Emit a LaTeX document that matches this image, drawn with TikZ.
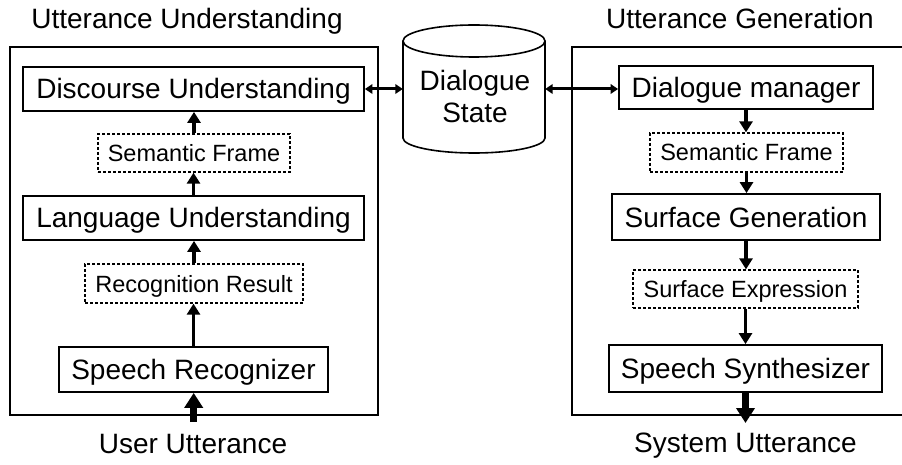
\documentclass[tikz,border=0pt]{standalone}
\usepackage{fontspec}
\setmainfont{Liberation Sans}
\usetikzlibrary{arrows.meta}
\tikzset{
  mainbox/.style={draw, line width=1.8pt, rectangle, inner sep=0pt,
    font=\fontsize{28}{32}\selectfont, text height=20pt, text depth=0pt},
  databox/.style={draw, line width=1.3pt, dash pattern=on 3pt off 2pt, rectangle, inner sep=0pt,
    font=\fontsize{23.5}{27}\selectfont, text height=17pt, text depth=0pt},
  bigbox/.style={draw, line width=2.4pt, rectangle, inner sep=0pt},
  title/.style={anchor=base, inner sep=0pt, font=\fontsize{28}{32}\selectfont},
  flow/.style={line width=3.9pt, -{Triangle[length=11pt,width=13pt]}},
  both/.style={line width=3pt, {Triangle[length=7.5pt,width=9.5pt]}-{Triangle[length=7.5pt,width=9.5pt]}},
  io/.style={line width=7pt, -{Triangle[length=15pt,width=18pt]}},
}
\begin{document}
\begin{tikzpicture}[x=1pt,y=-1pt]
\useasboundingbox (0,0) rectangle (902,465);
% big frames
\node[bigbox, minimum width=368pt, minimum height=368pt] (uu) at (194,231) {};
\node[bigbox, minimum width=340pt, minimum height=368pt] (ug) at (742,231) {};
% titles
\node[title] (tuu) at (187,29) {Utterance Understanding};
\node[title] (tug) at (740,29) {Utterance Generation};
% left column
\node[mainbox, minimum width=341pt, minimum height=44pt] (du) at (193.5,89) {Discourse Understanding};
\node[databox, minimum width=192pt, minimum height=38pt] (sfl) at (194,153) {Semantic Frame};
\node[mainbox, minimum width=341pt, minimum height=44pt] (lu) at (193.5,218) {Language Understanding};
\node[databox, minimum width=218pt, minimum height=39pt] (rr) at (194,283.5) {Recognition Result};
\node[mainbox, minimum width=269pt, minimum height=45pt] (sr) at (193.5,369.5) {Speech Recognizer};
% right column
\node[mainbox, minimum width=254pt, minimum height=43pt] (dm) at (746,87.5) {Dialogue manager};
\node[databox, minimum width=193pt, minimum height=39pt] (sfr) at (746.5,152.5) {Semantic Frame};
\node[mainbox, minimum width=268pt, minimum height=46pt] (sg) at (746,217) {Surface Generation};
\node[databox, minimum width=225pt, minimum height=38pt] (se) at (745.5,289) {Surface Expression};
\node[mainbox, minimum width=273pt, minimum height=47pt] (ss) at (745.5,368.5) {Speech Synthesizer};
% dialogue state cylinder
\node[inner sep=0pt, minimum width=142pt, minimum height=128pt] (ds) at (474,89) {};
\draw[line width=1.6pt, fill=white] (403,41) -- (403,138) arc[start angle=180, end angle=360, x radius=71pt, y radius=15pt] -- (545,41);
\draw[line width=1.6pt] (474,41) ellipse[x radius=71pt, y radius=16pt];
\node[align=center, inner sep=0pt, font=\fontsize{28}{32}\selectfont] (dsl) at (475,96) {Dialogue\\State};
% outer labels
\node[title] (uut) at (193,453) {User Utterance};
\node[title] (sut) at (745.5,452) {System Utterance};
\coordinate (uin) at (193.7,422);
\coordinate (sout) at (745.5,423);
% left flow
\draw[io] (uin) -- (uin |- sr.south);
\draw[flow] (sr.north) -- (sr.north |- rr.south);
\draw[flow] (rr.north) -- (rr.north |- lu.south);
\draw[flow] (lu.north) -- (lu.north |- sfl.south);
\draw[flow] (sfl.north) -- (sfl.north |- du.south);
% right flow
\draw[flow] (dm.south) -- (dm.south |- sfr.north);
\draw[flow] (sfr.south) -- (sfr.south |- sg.north);
\draw[flow] (sg.south) -- (sg.south |- se.north);
\draw[flow] (se.south) -- (se.south |- ss.north);
\draw[io] (ss.south) -- (sout);
% state links
\draw[both] (du.east) -- (du.east -| ds.west);
\draw[both] (ds.east) -- (ds.east -| dm.west);
\end{tikzpicture}
\end{document}
